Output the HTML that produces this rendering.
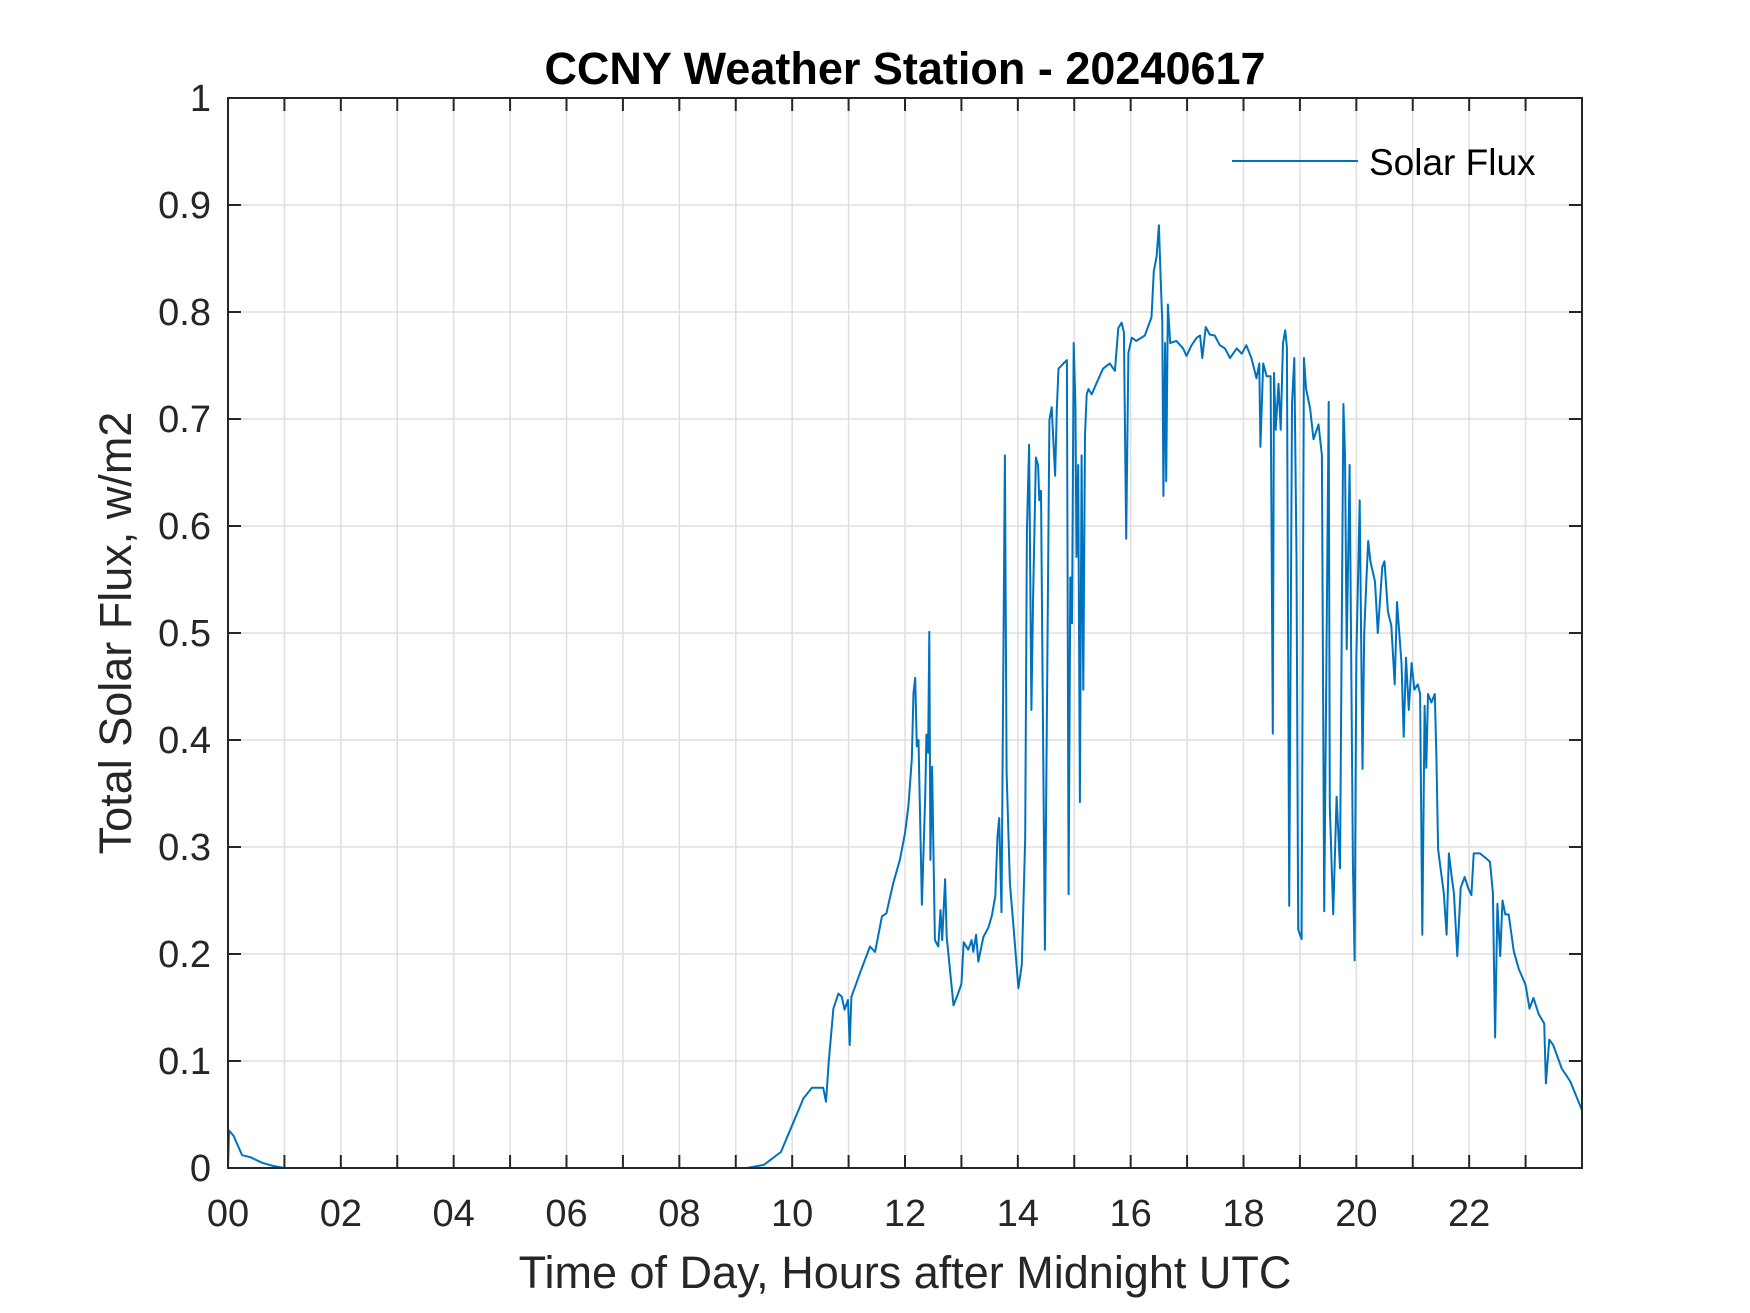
<!DOCTYPE html>
<html><head><meta charset="utf-8"><style>
html,body{margin:0;padding:0;background:#fff;}
svg{display:block;font-family:"Liberation Sans",Arial,sans-serif;}
</style></head><body>
<svg id="chart" width="1750" height="1313" viewBox="0 0 1750 1313" xmlns="http://www.w3.org/2000/svg">
<rect width="1750" height="1313" fill="#fff"/>
<g id="grid"></g>
<g id="series"></g>
<g id="axes"></g>
<text x="905" y="84" text-anchor="middle" font-size="45" font-weight="bold" fill="#000">CCNY Weather Station - 20240617</text>
<text x="905" y="1288" text-anchor="middle" font-size="45" fill="#262626">Time of Day, Hours after Midnight UTC</text>
<text transform="translate(131,633) rotate(-90)" text-anchor="middle" font-size="45" fill="#262626">Total Solar Flux, w/m2</text>
<g>
<line x1="1232" y1="161" x2="1358" y2="161" stroke="#0072BD" stroke-width="2"/>
<text x="1369" y="175" font-size="37" fill="#000">Solar Flux</text>
</g>
</svg>
<script>
const hours = [0,0.02,0.1,0.25,0.4,0.6,0.8,1.0,9.2,9.5,9.8,10.0,10.2,10.35,10.55,10.6,10.65,10.73,10.82,10.88,10.93,10.99,11.02,11.05,11.2,11.38,11.47,11.59,11.67,11.79,11.91,12.0,12.06,12.12,12.15,12.18,12.21,12.24,12.3,12.36,12.38,12.41,12.43,12.45,12.48,12.53,12.59,12.63,12.66,12.71,12.74,12.86,12.92,13.0,13.04,13.12,13.18,13.21,13.26,13.3,13.39,13.48,13.54,13.6,13.64,13.67,13.71,13.77,13.8,13.86,13.92,14.01,14.07,14.13,14.16,14.2,14.24,14.27,14.32,14.36,14.38,14.41,14.48,14.56,14.6,14.66,14.69,14.72,14.81,14.87,14.9,14.93,14.96,14.99,15.02,15.04,15.07,15.1,15.13,15.16,15.19,15.22,15.25,15.31,15.39,15.51,15.63,15.72,15.78,15.84,15.88,15.92,15.96,16.02,16.1,16.25,16.37,16.41,16.46,16.5,16.53,16.56,16.58,16.61,16.63,16.66,16.7,16.81,16.93,16.99,17.08,17.17,17.23,17.27,17.33,17.4,17.49,17.58,17.67,17.76,17.88,17.97,18.05,18.14,18.23,18.28,18.3,18.35,18.41,18.48,18.52,18.54,18.57,18.62,18.66,18.7,18.74,18.77,18.81,18.86,18.9,18.94,18.97,19.03,19.07,19.11,19.18,19.24,19.33,19.39,19.43,19.51,19.53,19.59,19.65,19.71,19.77,19.8,19.83,19.88,19.94,19.97,20.0,20.06,20.11,20.14,20.18,20.21,20.25,20.33,20.38,20.46,20.5,20.56,20.62,20.68,20.72,20.8,20.84,20.88,20.93,20.98,21.03,21.09,21.13,21.17,21.21,21.24,21.27,21.33,21.39,21.42,21.45,21.49,21.55,21.6,21.64,21.69,21.73,21.79,21.85,21.92,21.98,22.04,22.08,22.19,22.31,22.37,22.42,22.46,22.5,22.55,22.59,22.64,22.7,22.79,22.88,23.0,23.07,23.14,23.23,23.33,23.36,23.42,23.49,23.64,23.79,24.0];
const flux = [0,0.035,0.03,0.012,0.01,0.005,0.002,0,0,0.003,0.015,0.04,0.065,0.075,0.075,0.062,0.1,0.149,0.163,0.16,0.148,0.157,0.115,0.16,0.182,0.207,0.202,0.235,0.238,0.266,0.288,0.313,0.338,0.382,0.444,0.458,0.394,0.4,0.246,0.35,0.405,0.388,0.501,0.288,0.375,0.213,0.207,0.241,0.213,0.27,0.216,0.152,0.16,0.172,0.211,0.204,0.213,0.202,0.218,0.193,0.216,0.225,0.236,0.254,0.31,0.327,0.239,0.666,0.37,0.266,0.228,0.168,0.19,0.309,0.595,0.676,0.428,0.533,0.664,0.657,0.624,0.633,0.204,0.699,0.711,0.647,0.709,0.747,0.752,0.755,0.256,0.552,0.509,0.771,0.714,0.571,0.657,0.342,0.666,0.447,0.685,0.723,0.728,0.723,0.733,0.747,0.752,0.745,0.785,0.79,0.781,0.588,0.762,0.776,0.773,0.778,0.795,0.838,0.852,0.881,0.833,0.79,0.628,0.771,0.642,0.807,0.771,0.773,0.766,0.759,0.769,0.776,0.778,0.757,0.786,0.779,0.778,0.769,0.766,0.757,0.766,0.761,0.769,0.757,0.738,0.752,0.674,0.752,0.74,0.74,0.406,0.743,0.69,0.733,0.69,0.771,0.783,0.767,0.245,0.714,0.757,0.571,0.223,0.214,0.757,0.728,0.71,0.681,0.695,0.666,0.24,0.716,0.338,0.237,0.347,0.28,0.714,0.666,0.485,0.657,0.285,0.194,0.475,0.624,0.373,0.5,0.552,0.586,0.567,0.548,0.5,0.562,0.567,0.52,0.507,0.452,0.529,0.472,0.403,0.477,0.428,0.472,0.447,0.452,0.443,0.218,0.432,0.374,0.443,0.435,0.443,0.384,0.298,0.281,0.257,0.218,0.294,0.272,0.257,0.198,0.262,0.272,0.262,0.255,0.294,0.294,0.289,0.286,0.257,0.122,0.247,0.198,0.25,0.237,0.237,0.203,0.186,0.171,0.149,0.159,0.144,0.135,0.079,0.12,0.115,0.093,0.081,0.054];
const xTickLabels = ["00","02","04","06","08","10","12","14","16","18","20","22"];
const yTickLabels = ["0","0.1","0.2","0.3","0.4","0.5","0.6","0.7","0.8","0.9","1"];

const L=228,R=1582,T=98,B=1168;
const xMax=24, yMax=1;
function xs(h){return L+(R-L)*h/xMax;}
function ys(v){return B-(B-T)*v/yMax;}
const NS="http://www.w3.org/2000/svg";
function mk(tag,attrs,parent){const e=document.createElementNS(NS,tag);for(const k in attrs)e.setAttribute(k,attrs[k]);parent.appendChild(e);return e;}
const grid=document.getElementById('grid'), axes=document.getElementById('axes'), series=document.getElementById('series');

for(let h=1;h<24;h++){
  const g=mk('line',{x1:xs(h),x2:xs(h),y1:T,y2:B,stroke:'#dfdfdf','stroke-width':1.5},grid);
  
  
}
for(let i=1;i<yTickLabels.length-1;i++){
  const v=parseFloat(yTickLabels[i]);
  const g=mk('line',{x1:L,x2:R,y1:ys(v),y2:ys(v),stroke:'#dfdfdf','stroke-width':1.5},grid);
  
  
}
let d='';
for(let i=0;i<hours.length;i++){d+=(i?'L':'M')+xs(hours[i]).toFixed(1)+' '+ys(flux[i]).toFixed(1);}
const p=mk('path',{d:d,fill:'none',stroke:'#0072BD','stroke-width':2,'stroke-linejoin':'round'},series);



const box=mk('rect',{x:L,y:T,width:R-L,height:B-T,fill:'none',stroke:'#262626','stroke-width':2},axes);


for(let h=0;h<24;h++){
  const t1=mk('line',{x1:xs(h),x2:xs(h),y1:B,y2:B-13,stroke:'#262626','stroke-width':2},axes);
  
  
  const t2=mk('line',{x1:xs(h),x2:xs(h),y1:T,y2:T+13,stroke:'#262626','stroke-width':2},axes);
  
  
}
xTickLabels.forEach((lab,i)=>{
  const t=mk('text',{x:xs(i*2),y:1226,'text-anchor':'middle','font-size':38,fill:'#262626'},axes);
  t.textContent=lab;
  
  
});
yTickLabels.forEach(lab=>{
  const v=parseFloat(lab);
  const a=mk('line',{x1:L,x2:L+13,y1:ys(v),y2:ys(v),stroke:'#262626','stroke-width':2},axes);
  
  
  const b=mk('line',{x1:R,x2:R-13,y1:ys(v),y2:ys(v),stroke:'#262626','stroke-width':2},axes);
  
  
  const t=mk('text',{x:L-17,y:ys(v)+13,'text-anchor':'end','font-size':38,fill:'#262626'},axes);
  t.textContent=lab;
  
  
});
</script>
</body></html>
